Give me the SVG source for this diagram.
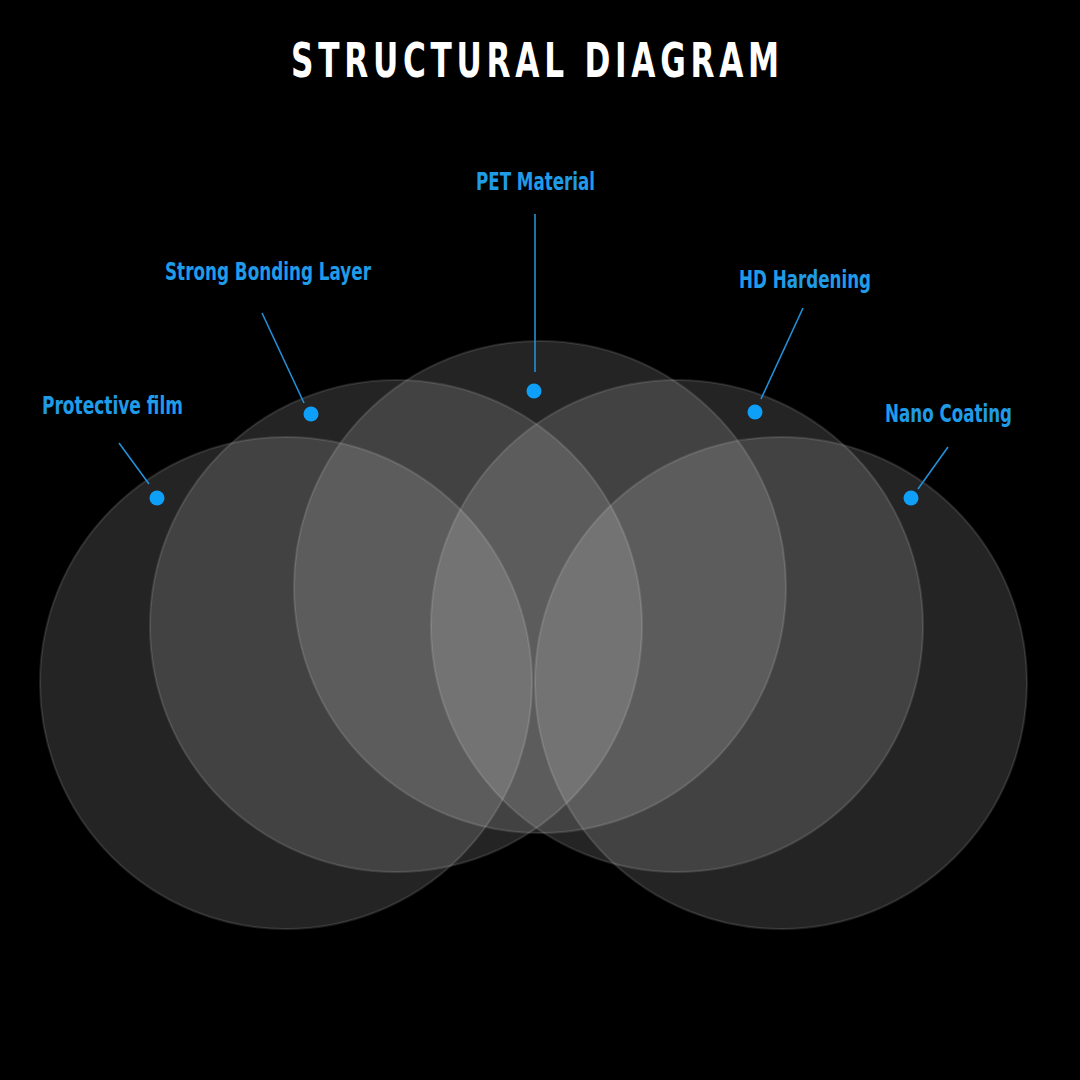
<svg xmlns="http://www.w3.org/2000/svg" width="1080" height="1080" viewBox="0 0 1080 1080">
<style>
.disc{fill:#ffffff;fill-opacity:0.14;stroke:#ffffff;stroke-opacity:0.12;stroke-width:2}
.lbl{font-family:"Liberation Sans Narrow","DejaVu Sans Condensed","Liberation Sans",sans-serif;font-stretch:condensed;font-weight:bold;font-size:24px;fill:#1f9be8}
.title{font-family:"DejaVu Sans","Liberation Sans",sans-serif;font-weight:bold;font-size:48px;fill:#ffffff}
.lead{stroke:#2290d8;stroke-width:1.6;fill:none}
.dot{fill:#0ea0f8}
</style>
<rect width="1080" height="1080" fill="#000000"/>
<text class="title" transform="translate(291,77) scale(0.65,1)" x="0" y="0" textLength="751" lengthAdjust="spacing">STRUCTURAL DIAGRAM</text>
<g id="discs">
<circle id="disc-protective" class="disc" cx="286" cy="683" r="246"/>
<circle id="disc-bonding" class="disc" cx="396" cy="626" r="246"/>
<circle id="disc-pet" class="disc" cx="540" cy="587" r="246"/>
<circle id="disc-hd" class="disc" cx="677" cy="626" r="246"/>
<circle id="disc-nano" class="disc" cx="781" cy="683" r="246"/>
</g>
<g id="connectors">
<line class="lead" x1="119" y1="443" x2="149" y2="484"/>
<line class="lead" x1="262" y1="313" x2="304" y2="403"/>
<line class="lead" x1="535" y1="214" x2="535" y2="372"/>
<line class="lead" x1="803" y1="308" x2="761" y2="399"/>
<line class="lead" x1="948" y1="447" x2="918" y2="489"/>
</g>
<g id="node-protective">
<text class="lbl" x="42" y="414" textLength="141" lengthAdjust="spacingAndGlyphs">Protective film</text>
<circle class="dot" cx="157" cy="498" r="7.5"/>
</g>
<g id="node-bonding">
<text class="lbl" x="165" y="280" textLength="206" lengthAdjust="spacingAndGlyphs">Strong Bonding Layer</text>
<circle class="dot" cx="311" cy="414" r="7.5"/>
</g>
<g id="node-pet">
<text class="lbl" x="476" y="190" textLength="119" lengthAdjust="spacingAndGlyphs">PET Material</text>
<circle class="dot" cx="534" cy="391" r="7.5"/>
</g>
<g id="node-hd">
<text class="lbl" x="739" y="288" textLength="132" lengthAdjust="spacingAndGlyphs">HD Hardening</text>
<circle class="dot" cx="755" cy="412" r="7.5"/>
</g>
<g id="node-nano">
<text class="lbl" x="885" y="422" textLength="127" lengthAdjust="spacingAndGlyphs">Nano Coating</text>
<circle class="dot" cx="911" cy="498" r="7.5"/>
</g>
</svg>
